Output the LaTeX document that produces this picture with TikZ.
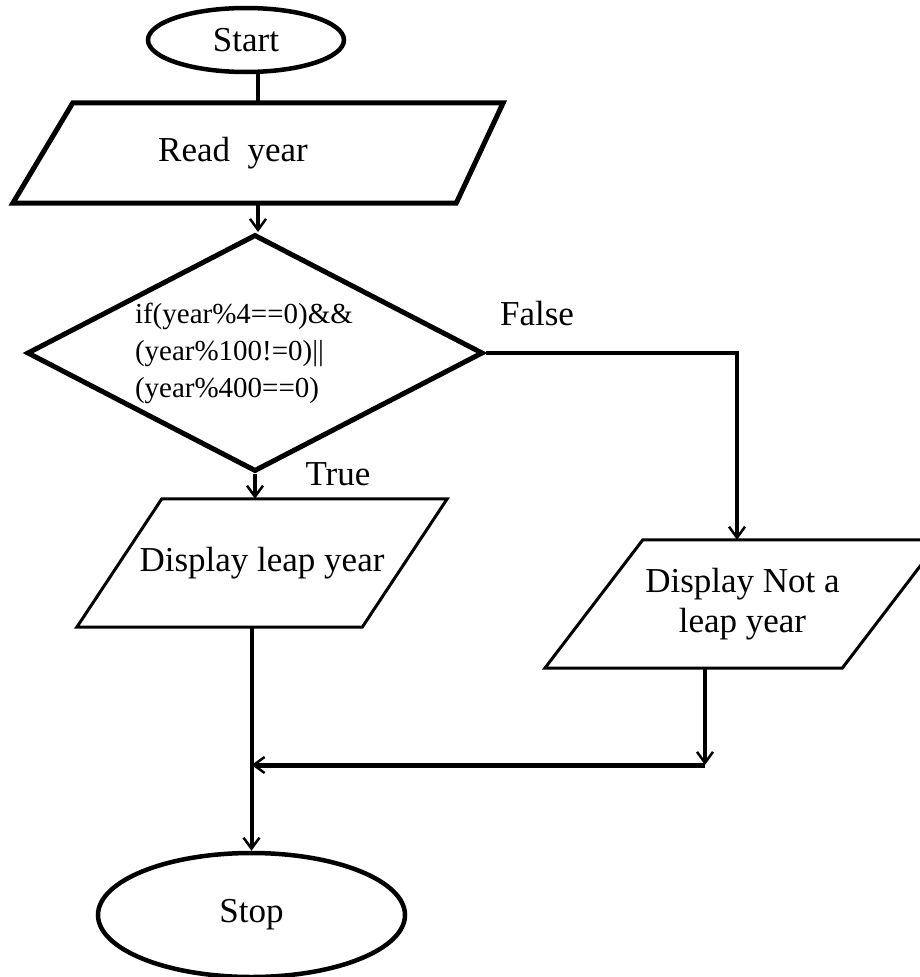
\documentclass[tikz,border=0pt]{standalone}
\usepackage{fontspec}
\setmainfont{Liberation Serif}
\usetikzlibrary{shapes.geometric,arrows.meta,calc}
\begin{document}
\begin{tikzpicture}[x=1pt,y=-1pt,
  txt/.style={font=\fontsize{35}{40}\selectfont},
  term/.style={ellipse, draw, line width=4.5pt, inner sep=0pt, txt},
  boxnode/.style={rectangle, draw=none, inner sep=0pt, txt, align=center},
  thickshape/.style={line width=5pt, line join=miter},
  thinshape/.style={line width=3pt, line join=miter},
  conn/.style={line width=4pt, -{Straight Barb[length=11pt,width=16pt,line width=2.5pt]}},
  plainconn/.style={line width=4pt},
  lab/.style={txt, inner sep=0pt}]
\useasboundingbox (0,0) rectangle (920,977);

% nodes
\node[term, minimum width=196, minimum height=64] (start) at (246,40) {Start};
\node[boxnode, minimum width=490, minimum height=100] (read) at (258,153) {Read~~year\hspace{50pt}};
\node[diamond, draw, line width=5pt, aspect=1.92, minimum width=456, minimum height=237,
      inner sep=0pt, font=\fontsize{29}{37}\selectfont, text width=240pt, align=left] (dec) at (255,353)
      {if(year\%4==0)\&\&\\(year\%100!=0)||\\(year\%400==0)};
\node[boxnode, minimum width=370, minimum height=128] (leap) at (262,563) {Display leap year};
\node[boxnode, minimum width=395, minimum height=128] (notleap) at (742.5,604) {Display Not a\\leap year};
\node[term, minimum width=307, minimum height=124] (stop) at (251.5,915) {Stop};

% outlines of the parallelograms
\draw[thickshape] ($(read.north west)+(60,0)$) -- (read.north east)
  -- ($(read.south east)+(-47,0)$) -- (read.south west) -- cycle;
\draw[thinshape] ($(leap.north west)+(85,0)$) -- (leap.north east)
  -- ($(leap.south east)+(-85,0)$) -- (leap.south west) -- cycle;
\draw[thinshape] ($(notleap.north west)+(98,0)$) -- (notleap.north east)
  -- ($(notleap.south east)+(-98,0)$) -- (notleap.south west) -- cycle;

% labels
\node[lab] (flab) at (537,314) {False};
\node[lab] (tlab) at (338,474) {True};

% connectors
\coordinate (mj) at (705,765);
\draw[plainconn] (start.south -| read.north) -- (read.north);
\draw[conn] (read.south) -- (read.south |- dec.north);
\draw[conn] (dec.south) -- (dec.south |- leap.north);
\draw[conn, line width=3.5pt] (dec.east) -| ([xshift=-5.5pt]notleap.north);
\draw[conn] ([xshift=-37.5pt]notleap.south) -- (mj);
\draw[conn, line width=5pt] (mj) -- (mj -| stop.north);
\draw[conn] (leap.south -| stop.north) -- (stop.north);
\end{tikzpicture}
\end{document}
